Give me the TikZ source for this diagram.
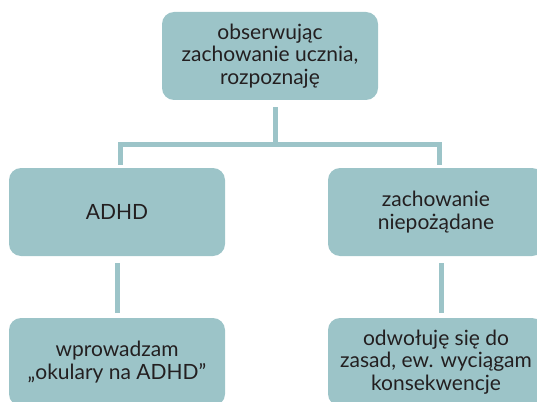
\documentclass[tikz,border=0pt]{standalone}
\usepackage{fontspec}
\setmainfont{Lato}
\usetikzlibrary{positioning}
\definecolor{boxteal}{HTML}{9CC4C8}
\definecolor{textgray}{HTML}{231F20}
\tikzset{
  stepbox/.style={rectangle, rounded corners=12pt, fill=boxteal,
    minimum width=216pt, minimum height=88pt, inner sep=4pt,
    text=textgray, align=center,
    font=\fontsize{21pt}{22.5pt}\selectfont},
  link/.style={draw=boxteal, line width=5pt}
}
\begin{document}
\begin{tikzpicture}[x=1pt, y=-1pt]
\useasboundingbox (0,0) rectangle (537,401);
\clip (0,0) rectangle (537,401);

% Top question
\node[stepbox] (obs) at (270,56) {obserwując\\zachowanie ucznia,\\rozpoznaję};

% Two branches
\node[stepbox] (adhd) at (117,212) {ADHD};
\node[stepbox] (niep) at (436,212) {zachowanie\\niepożądane};

% Reactions
\node[stepbox] (okul) at (117,362) {wprowadzam\\„okulary na ADHD”};
\node[stepbox] (zas)  at (436,362) {odwołuję się do\\zasad, ew. wyciągam\\konsekwencje};

% Connectors
\draw[link] ([xshift=5pt, yshift=-7pt]obs.south) -- ++(0,37) coordinate (split);
\draw[link] ([xshift=3pt, yshift=3pt]adhd.north) |- (split) -| ([xshift=3pt, yshift=3pt]niep.north);
\draw[link] ([yshift=-7pt]adhd.south) -- ([yshift=5pt]okul.north);
\draw[link] ([xshift=5pt, yshift=-7pt]niep.south) -- ([xshift=5pt, yshift=5pt]zas.north);

\end{tikzpicture}
\end{document}
